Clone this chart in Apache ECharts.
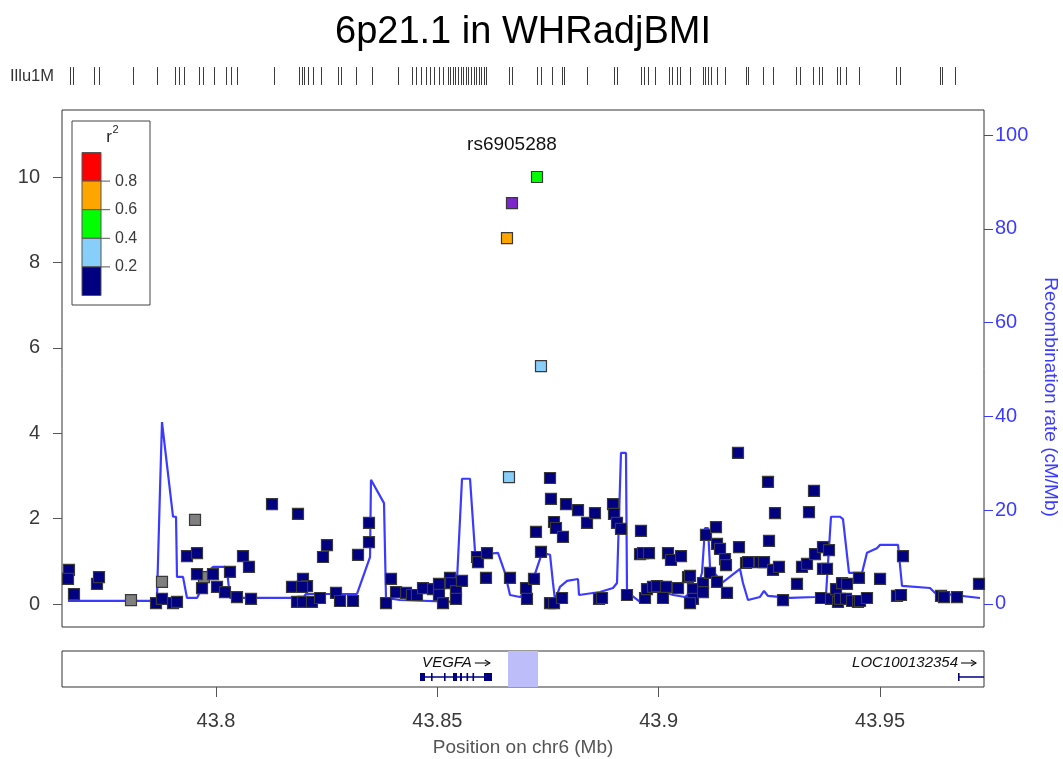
<!DOCTYPE html>
<html>
<head>
<meta charset="utf-8">
<script src="https://cdn.jsdelivr.net/npm/echarts@6/dist/echarts.min.js"></script>
<style>
  html, body { margin: 0; padding: 0; background: #fff; }
  #chart { width: 1063px; height: 759px; }
</style>
</head>
<body>
<div id="chart"></div>
<script>
// ---- region and axes (chr6, Mb) ----
const xRange = [43.765214, 43.973481];
const xTicks = [43.8, 43.85, 43.9, 43.95];
const pRange = [-0.539, 11.569];          // -log10(p)
const pTicks = [0, 2, 4, 6, 8, 10];
const recRange = [-4.91, 105.33];         // cM/Mb
const recTicks = [0, 20, 40, 60, 80, 100];

// ---- LD legend ----
const ldBreaks = ['0.8', '0.6', '0.4', '0.2'];
const ldColors = ['#FF0000', '#FFA500', '#00FF00', '#87CEFA', '#000080']; // top to bottom

// ---- SNPs: [position Mb, -log10 p] ----
const snpsNoLd = [[43.78080,0.09],[43.78780,0.52],[43.79526,1.97],[43.79729,0.63]];
const snpsLd0 = [
  [43.76679,0.80],[43.76657,0.59],[43.76792,0.23],[43.77312,0.47],[43.77357,0.63],
  [43.78645,0.02],[43.78780,0.12],[43.79029,0.02],[43.79119,0.05],
  [43.79345,1.12],[43.79571,1.19],[43.79571,0.70],[43.79684,0.37],[43.79932,0.70],[43.80023,0.40],
  [43.80203,0.28],[43.80316,0.75],[43.80474,0.16],[43.80610,1.12],[43.80745,0.87],[43.80791,0.12],
  [43.81265,2.34],[43.81852,2.11],[43.81717,0.40],[43.81965,0.59],[43.82056,0.42],[43.81943,0.40],
  [43.81830,0.05],[43.81965,0.05],[43.82168,0.05],[43.82349,0.14],[43.82417,1.10],[43.82507,1.38],
  [43.82711,0.26],[43.82801,0.07],[43.83095,0.07],[43.83208,1.15],[43.83456,1.90],[43.83456,1.45],
  [43.83840,0.02],[43.83953,0.59],[43.84066,0.28],[43.84292,0.26],[43.84427,0.21],[43.84540,0.21],
  [43.84676,0.37],[43.84902,0.35],[43.85037,0.47],[43.85037,0.21],[43.85128,0.02],[43.85286,0.61],
  [43.85308,0.49],[43.85421,0.30],[43.85421,0.12],[43.85557,0.54],[43.85896,1.10],[43.85918,0.98],
  [43.86122,1.19],[43.86099,0.61],
  [43.86641,0.61],[43.87003,0.37],[43.87025,0.12],[43.87183,0.59],[43.87228,1.69],[43.87341,1.22],
  [43.87545,2.95],[43.87567,2.46],[43.87545,0.02],[43.87635,0.02],[43.87635,1.92],[43.87680,1.78],
  [43.87838,1.57],[43.87816,0.14],[43.87906,2.34],[43.88177,2.20],[43.88381,1.90],[43.88561,2.13],
  [43.88652,0.12],[43.88719,0.14],
  [43.88968,2.34],[43.88990,2.11],[43.89058,1.90],[43.89148,1.76],[43.89284,0.21],[43.89600,1.71],
  [43.89578,1.17],[43.89645,1.19],[43.89781,1.19],[43.89691,0.14],[43.89736,0.35],[43.89871,0.40],
  [43.89962,0.42],[43.90097,0.14],[43.90165,0.40],[43.90210,1.19],[43.90278,1.03],[43.90504,1.12],
  [43.90436,0.37],[43.90662,0.63],[43.90707,0.66],[43.90775,0.35],[43.90775,0.12],[43.90707,0.02],
  [43.91001,0.49],[43.91001,0.28],
  [43.91068,1.62],[43.91294,1.80],[43.91317,1.41],[43.91385,1.29],[43.91159,0.73],[43.91317,0.52],
  [43.91498,1.05],[43.91520,0.91],[43.91543,0.26],[43.91791,3.54],[43.91814,1.33],[43.91972,0.96],
  [43.92017,0.98],[43.92288,0.98],[43.92379,0.98],[43.92469,2.86],[43.92492,1.48],[43.92627,2.13],
  [43.92582,0.80],[43.92717,0.87],[43.92808,0.09],
  [43.93124,0.47],[43.93237,0.87],[43.93350,0.94],[43.93395,2.15],[43.93508,2.65],[43.93531,1.17],
  [43.93711,1.33],[43.93847,1.26],[43.93711,0.82],[43.93802,0.82],[43.93666,0.14],[43.93892,0.12],
  [43.94005,0.35],[43.94141,0.49],[43.94254,0.47],[43.94050,0.05],[43.94095,0.12],[43.94231,0.12],
  [43.94367,0.07],[43.94502,0.05],[43.94547,0.07],[43.94705,0.14],[43.94524,0.61],[43.95000,0.59],
  [43.95518,1.12],[43.95383,0.19],[43.95473,0.21],[43.96377,0.19],[43.96444,0.16],[43.96738,0.16],
  [43.97235,0.47]
];
const snpsLd2 = [[43.86618,2.97],[43.87341,5.57]];
const snpsLd4 = [[43.87251,10.00]];
const snpsLd6 = [[43.86573,8.57]];
const leadSnp = [[43.86686,9.39]];
const leadName = 'rs6905288';

// ---- recombination rate: [position Mb, cM/Mb] ----
const recomb = [
  [43.76657,0.64],[43.78617,0.64],[43.78667,1.28],[43.78735,24.3],[43.78780,38.8],[43.79029,18.6],
  [43.79097,18.6],[43.79119,5.76],[43.79255,5.76],[43.79345,1.28],[43.79571,1.28],[43.79639,2.56],
  [43.79797,6.83],[43.79932,7.89],[43.80203,7.89],[43.80248,7.25],[43.80316,1.28],[43.81965,1.28],
  [43.82033,2.13],[43.83185,2.13],[43.83479,10.0],[43.83501,26.5],[43.83795,21.5],[43.83840,1.28],
  [43.84156,0.85],[43.85398,0.43],[43.85444,5.12],[43.85557,26.7],[43.85738,26.7],[43.85851,11.1],
  [43.85963,10.5],[43.86370,10.9],[43.86528,6.61],[43.86641,1.92],[43.86867,1.49],[43.87025,2.56],
  [43.87161,5.12],[43.87364,10.9],[43.87545,10.5],[43.87612,4.48],[43.87658,0.85],[43.87770,3.63],
  [43.87929,4.91],[43.88177,5.33],[43.88200,1.92],[43.88674,2.56],[43.88968,3.41],[43.89058,4.48],
  [43.89148,32.2],[43.89261,32.2],[43.89284,2.56],[43.89578,0.43],[43.89736,2.35],[43.89984,2.99],
  [43.90323,1.92],[43.90594,1.49],[43.90866,3.41],[43.90978,6.61],[43.91046,16.2],[43.91114,16.2],
  [43.91159,7.89],[43.91430,4.48],[43.91837,7.47],[43.91904,4.48],[43.92017,0.85],[43.92288,1.49],
  [43.92379,2.77],[43.92469,1.71],[43.92966,1.28],[43.93531,1.49],[43.93779,1.92],[43.93892,18.6],
  [43.94095,18.6],[43.94163,18.1],[43.94299,6.61],[43.94592,6.61],[43.94705,10.9],[43.94929,11.9],
  [43.95000,12.6],[43.95406,12.6],[43.95496,3.84],[43.96129,3.41],[43.96242,2.35],[43.97258,1.28]
];

// ---- genotyping array marker positions (Mb) ----
const arrayName = 'Illu1M';
const arraySnps = [
  43.76702,43.76770,43.77244,43.77357,43.78125,43.78667,43.79074,43.79164,43.79277,43.79616,
  43.79706,43.79955,43.80226,43.80339,43.80474,43.81310,43.81875,43.81943,43.81988,43.82078,
  43.82191,43.82372,43.82756,43.82824,43.83162,43.83524,43.84111,43.84427,43.84518,43.84631,
  43.84744,43.84834,43.84924,43.85037,43.85128,43.85241,43.85297,43.85354,43.85410,43.85467,
  43.85523,43.85580,43.85636,43.85693,43.85749,43.85828,43.85884,43.85941,43.85997,43.86054,
  43.86110,43.86618,43.86686,43.87251,43.87341,43.87590,43.87816,
  43.87861,43.88381,43.88990,43.89058,43.89600,43.89668,43.89758,43.89916,43.90233,43.90300,
  43.90413,43.90481,43.90707,43.91001,43.91046,43.91114,43.91181,43.91317,43.91498,43.91972,
  43.92017,43.92356,43.92582,43.93101,43.93192,43.93486,43.93621,43.93689,43.94028,43.94095,
  43.94231,43.94524,43.95360,43.95451,43.96354,43.96399,43.96693
];

// ---- genes ----
const genes = [
  { name: 'VEGFA', start: 43.84608, end: 43.86234,
    exons: [[43.84608,43.84721],[43.84857,43.84879],[43.85150,43.85184],[43.85354,43.85444],
            [43.85512,43.85557],[43.85659,43.85692],[43.85794,43.85828],[43.86054,43.86234]] },
  { name: 'LOC100132354', start: 43.96761, end: 43.99000,
    exons: [[43.96761,43.96775]] }
];
const highlight = [43.86596, 43.87274];

const FONT = "'Liberation Sans', Arial, Helvetica, sans-serif";
const REC_BLUE = '#3b3bff';
const AXIS_GRAY = '#555555';
const TEXT_GRAY = '#3a3a3a';

const measureCtx = document.createElement('canvas').getContext('2d');
function textWidth(str, font) { measureCtx.font = font; return measureCtx.measureText(str).width; }

function snpSeries(name, data, color, z, extra) {
  return Object.assign({
    name, type: 'scatter', xAxisIndex: 0, yAxisIndex: 0, data,
    symbol: 'rect', symbolSize: 11, z,
    itemStyle: { color, opacity: 1, borderColor: '#3a3a3a', borderWidth: 1.2 },
    emphasis: { disabled: true }, silent: true
  }, extra || {});
}

const chart = echarts.init(document.getElementById('chart'), null, { renderer: 'canvas' });

const hiddenAxis = { axisLine: { show: false }, axisTick: { show: false }, axisLabel: { show: false }, splitLine: { show: false } };

function txt(text, x, y, font, fill, align, extra) {
  return Object.assign({ type: 'text', x, y, style: { text, font, fill, align, verticalAlign: 'middle', textAlign: align, textVerticalAlign: 'middle' } }, extra || {});
}

// legend graphics
const legendGraphics = [];
legendGraphics.push({ type: 'rect', shape: { x: 72, y: 121, width: 78, height: 184 }, style: { fill: '#fff', stroke: '#444', lineWidth: 1 }, z: 50 });
legendGraphics.push(txt('r', 109, 137, '17px ' + FONT, '#222', 'center', { z: 51 }));
legendGraphics.push(txt('2', 115.5, 130, '11px ' + FONT, '#222', 'center', { z: 51 }));
const lgTop = 152.5, lgStep = 28.6;
ldColors.forEach((c, i) => {
  legendGraphics.push({ type: 'rect', z: 51, shape: { x: 82, y: lgTop + i * lgStep, width: 19, height: lgStep }, style: { fill: c, stroke: '#555', lineWidth: 1 } });
});
ldBreaks.forEach((lab, i) => {
  const y = lgTop + (i + 1) * lgStep;
  legendGraphics.push({ type: 'line', z: 52, shape: { x1: 101, y1: y, x2: 110, y2: y }, style: { stroke: '#555', lineWidth: 1 } });
  legendGraphics.push(txt(lab, 115, y, '16px ' + FONT, TEXT_GRAY, 'left', { z: 52 }));
});

const option = {
  animation: false,
  backgroundColor: '#ffffff',
  textStyle: { fontFamily: FONT },
  grid: [
    { left: 62, top: 110, width: 922, height: 517, show: true, borderColor: '#333', borderWidth: 1, backgroundColor: 'transparent' },
    { left: 62, top: 651, width: 922, height: 36, show: true, borderColor: '#333', borderWidth: 1, backgroundColor: 'transparent' },
    { left: 62, top: 67, width: 922, height: 18, show: false }
  ],
  xAxis: [
    Object.assign({ type: 'value', gridIndex: 0, min: xRange[0], max: xRange[1] }, hiddenAxis),
    { type: 'value', gridIndex: 1, min: xRange[0], max: xRange[1], position: 'bottom',
      axisLine: { show: false },
      axisTick: { show: true, customValues: xTicks, length: 10, lineStyle: { color: AXIS_GRAY, width: 1 } },
      axisLabel: { show: true, customValues: xTicks, fontSize: 20, color: TEXT_GRAY, margin: 24, fontFamily: FONT,
                   formatter: v => String(+v.toFixed(2)) },
      splitLine: { show: false } },
    Object.assign({ type: 'value', gridIndex: 2, min: xRange[0], max: xRange[1] }, hiddenAxis)
  ],
  yAxis: [
    { type: 'value', gridIndex: 0, min: pRange[0], max: pRange[1], position: 'left',
      axisLine: { show: false },
      axisTick: { show: true, customValues: pTicks, length: 9, lineStyle: { color: AXIS_GRAY } },
      axisLabel: { show: true, customValues: pTicks, fontSize: 20, color: TEXT_GRAY, margin: 22, fontFamily: FONT },
      splitLine: { show: false } },
    { type: 'value', gridIndex: 0, min: recRange[0], max: recRange[1], position: 'right',
      axisLine: { show: false },
      axisTick: { show: true, customValues: recTicks, length: 9, lineStyle: { color: REC_BLUE } },
      axisLabel: { show: true, customValues: recTicks, fontSize: 20, color: REC_BLUE, margin: 11, fontFamily: FONT },
      splitLine: { show: false } },
    Object.assign({ type: 'value', gridIndex: 1, min: 0, max: 1 }, hiddenAxis),
    Object.assign({ type: 'value', gridIndex: 2, min: 0, max: 1 }, hiddenAxis)
  ],
  series: [
    { name: 'Recombination rate', type: 'line', xAxisIndex: 0, yAxisIndex: 1, data: recomb,
      showSymbol: false, symbol: 'none', z: 1, silent: true,
      lineStyle: { color: REC_BLUE, width: 2.2 }, emphasis: { disabled: true } },
    snpSeries('no LD', snpsNoLd, '#808080', 3),
    snpSeries('r2 < 0.2', snpsLd0, '#000080', 4),
    snpSeries('0.2 - 0.4', snpsLd2, '#87CEFA', 5),
    snpSeries('0.4 - 0.6', snpsLd4, '#00FF00', 6),
    snpSeries('0.6 - 0.8', snpsLd6, '#FFA500', 7),
    snpSeries(leadName, leadSnp, '#7D26CD', 8, {
      label: { show: true, position: 'top', distance: 43, formatter: leadName, fontSize: 19, color: '#111', fontFamily: FONT }
    }),
    // highlighted interval in the gene panel
    { type: 'custom', xAxisIndex: 1, yAxisIndex: 2, data: [[highlight[0], highlight[1]]], z: 1, silent: true,
      encode: { x: [0, 1] },
      renderItem(params, api) {
        const cs = params.coordSys;
        const a = api.coord([api.value(0), 0])[0], b = api.coord([api.value(1), 0])[0];
        return { type: 'rect', shape: { x: a, y: cs.y, width: b - a, height: cs.height }, style: { fill: '#bdbdf9' } };
      } },
    // gene models with direction arrows
    { type: 'custom', xAxisIndex: 1, yAxisIndex: 2, data: genes.map(g => [g.start, g.end]), z: 3, silent: true,
      encode: { x: [0, 1] },
      renderItem(params, api) {
        const g = genes[params.dataIndex];
        const cs = params.coordSys;
        const left = cs.x, right = cs.x + cs.width;
        const px = v => api.coord([v, 0])[0];
        const yLine = cs.y + 26;
        const x0 = Math.max(px(g.start), left), x1 = Math.min(px(g.end), right);
        const children = [{ type: 'line', shape: { x1: x0, y1: yLine, x2: x1, y2: yLine }, style: { stroke: '#000080', lineWidth: 1.5 } }];
        g.exons.forEach(e => {
          const a = Math.max(px(e[0]), left), b = Math.min(px(e[1]), right);
          children.push({ type: 'rect', shape: { x: a, y: yLine - 4, width: Math.max(b - a, 1.6), height: 8 }, style: { fill: '#000080' } });
        });
        const font = 'italic 15px ' + FONT;
        const arrowLen = 15, gap = 3;
        const w = textWidth(g.name, font) + gap + arrowLen;
        let cx = (x0 + x1) / 2;
        if (cx + w / 2 > right - 8) cx = right - 8 - w / 2;
        if (cx - w / 2 < left + 4) cx = left + 4 + w / 2;
        const ty = cs.y + 12;
        const tl = cx - w / 2;
        const ax0 = tl + w - arrowLen, ax1 = tl + w;
        children.push({ type: 'text', x: tl, y: ty, style: { text: g.name, font, fill: '#111', align: 'left', verticalAlign: 'middle', textAlign: 'left', textVerticalAlign: 'middle' } });
        children.push({ type: 'line', shape: { x1: ax0, y1: ty, x2: ax1, y2: ty }, style: { stroke: '#111', lineWidth: 1.1 } });
        children.push({ type: 'polyline', shape: { points: [[ax1 - 5, ty - 3], [ax1, ty], [ax1 - 5, ty + 3]] }, style: { stroke: '#111', lineWidth: 1.1, fill: null } });
        return { type: 'group', children };
      } },
    // array marker rug
    { type: 'custom', xAxisIndex: 2, yAxisIndex: 3, data: arraySnps.map(v => [v, 0.5]), z: 2, silent: true,
      encode: { x: 0, y: 1 },
      renderItem(params, api) {
        const cs = params.coordSys;
        const x = Math.round(api.coord([api.value(0), 0.5])[0]) + 0.5;
        return { type: 'line', shape: { x1: x, y1: cs.y, x2: x, y2: cs.y + cs.height }, style: { stroke: '#3c3c3c', lineWidth: 1 } };
      } }
  ],
  graphic: [
    txt('6p21.1 in WHRadjBMI', 523, 33, '38px ' + FONT, '#000', 'center'),
    txt(arrayName, 10, 76, '16.5px ' + FONT, '#333', 'left'),
    txt('Position on chr6 (Mb)', 523, 748, '19px ' + FONT, '#555', 'center'),
    txt('Recombination rate (cM/Mb)', 1050, 397, '19px ' + FONT, REC_BLUE, 'center', { rotation: -Math.PI / 2 })
  ].concat(legendGraphics)
};

chart.setOption(option);
</script>
</body>
</html>
